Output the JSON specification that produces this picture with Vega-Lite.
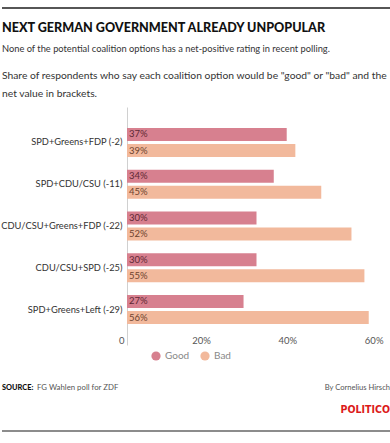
{
  "$schema": "https://vega.github.io/schema/vega-lite/v6.json",
  "background": "white",
  "padding": {"left": 0, "top": 7, "right": 0, "bottom": 0},
  "config": {
    "view": {"stroke": null},
    "font": "Lato"
  },
  "columns": 1,
  "spacing": 15,
  "resolve": {"legend": {"color": "independent"}, "scale": {"color": "independent"}},
  "concat": [
    {
      "width": 265,
      "height": 1,
      "data": {"values": [{"k": 1}]},
      "mark": {"type": "rule", "color": "#1e1e1e", "strokeWidth": 1.5},
      "encoding": {"x": {"value": -125}, "x2": {"value": "width"}, "y": {"value": 0}},
      "title": {
        "text": "NEXT GERMAN GOVERNMENT ALREADY UNPOPULAR",
        "subtitle": "None of the potential coalition options has a net-positive rating in recent polling.",
        "orient": "bottom",
        "anchor": "start",
        "frame": "group",
        "dx": -125,
        "font": "Lato",
        "fontSize": 12.6,
        "fontWeight": 900,
        "color": "#111111",
        "offset": 13,
        "subtitleFont": "Lato",
        "subtitleFontSize": 9.3,
        "subtitleColor": "#333333",
        "subtitlePadding": 10.5
      }
    },
    {
      "width": 259,
      "height": 238,
      "title": {
        "text": ["Share of respondents who say each coalition option would be \"good\" or \"bad\" and the", "net value in brackets."],
        "anchor": "start",
        "frame": "group",
        "dx": -125,
        "font": "Lato",
        "fontSize": 10.3,
        "fontWeight": "normal",
        "color": "#333333",
        "lineHeight": 18,
        "offset": 8
      },
      "data": {
        "values": [
          {"coalition": "SPD+Greens+FDP (-2)", "answer": "Good", "share": 0.37},
          {"coalition": "SPD+Greens+FDP (-2)", "answer": "Bad", "share": 0.39},
          {"coalition": "SPD+CDU/CSU (-11)", "answer": "Good", "share": 0.34},
          {"coalition": "SPD+CDU/CSU (-11)", "answer": "Bad", "share": 0.45},
          {"coalition": "CDU/CSU+Greens+FDP (-22)", "answer": "Good", "share": 0.30},
          {"coalition": "CDU/CSU+Greens+FDP (-22)", "answer": "Bad", "share": 0.52},
          {"coalition": "CDU/CSU+SPD (-25)", "answer": "Good", "share": 0.30},
          {"coalition": "CDU/CSU+SPD (-25)", "answer": "Bad", "share": 0.55},
          {"coalition": "SPD+Greens+Left (-29)", "answer": "Good", "share": 0.27},
          {"coalition": "SPD+Greens+Left (-29)", "answer": "Bad", "share": 0.56}
        ]
      },
      "encoding": {
        "y": {
          "field": "coalition",
          "type": "nominal",
          "sort": null,
          "scale": {"paddingInner": 0, "paddingOuter": 0.35},
          "axis": {
            "title": null,
            "ticks": false,
            "domain": true,
            "domainColor": "#d0d0d0",
            "domainWidth": 1,
            "labelFont": "Lato",
            "labelFontSize": 9.3,
            "labelColor": "#333333",
            "labelPadding": 5,
            "minExtent": 125,
            "maxExtent": 125
          }
        },
        "yOffset": {
          "field": "answer",
          "sort": ["Good", "Bad"],
          "scale": {"paddingInner": 0.2, "paddingOuter": 0.4}
        }
      },
      "layer": [
        {
          "mark": {"type": "bar"},
          "encoding": {
            "x": {
              "field": "share",
              "type": "quantitative",
              "scale": {"domain": [0, 0.6], "nice": false},
              "axis": {
                "title": null,
                "format": ".0%",
                "labelExpr": "datum.value === 0 ? '0' : datum.label",
                "values": [0, 0.2, 0.4, 0.6],
                "grid": false,
                "domain": false,
                "ticks": false,
                "tickSize": 0,
                "labelAlign": "right",
                "labelBaseline": "middle",
                "labelOffset": -3,
                "labelPadding": -5,
                "labelFont": "Lato",
                "labelFontSize": 9.5,
                "labelColor": "#555555"
              }
            },
            "color": {
              "field": "answer",
              "type": "nominal",
              "sort": ["Good", "Bad"],
              "scale": {"domain": ["Good", "Bad"], "range": ["#d7808f", "#f2b99c"]},
              "legend": {
                "title": null,
                "orient": "none",
                "legendX": 24,
                "legendY": 244,
                "direction": "horizontal",
                "symbolType": "circle",
                "symbolSize": 85,
                "symbolStrokeWidth": 0,
                "labelFont": "Lato",
                "labelFontSize": 10,
                "labelColor": "#888888",
                "columnPadding": 10
              }
            }
          }
        },
        {
          "mark": {"type": "text", "align": "left", "baseline": "middle", "dx": 2, "font": "Lato", "fontSize": 9.5},
          "encoding": {
            "x": {"datum": 0, "type": "quantitative"},
            "text": {"field": "share", "type": "quantitative", "format": ".0%"},
            "color": {
              "condition": {"test": "datum.answer === 'Good'", "value": "#5e2834"},
              "value": "#6e432f"
            }
          }
        }
      ]
    },
    {
      "width": 265,
      "height": 55,
      "layer": [
        {
          "data": {"values": [{"t": "SOURCE:"}]},
          "mark": {"type": "text", "align": "left", "baseline": "middle", "font": "Lato", "fontSize": 7.4, "fontWeight": 900, "color": "#111111"},
          "encoding": {"text": {"field": "t"}, "x": {"value": -125}, "y": {"value": 12}}
        },
        {
          "data": {"values": [{"t": "FG Wahlen poll for ZDF"}]},
          "mark": {"type": "text", "align": "left", "baseline": "middle", "font": "Lato", "fontSize": 7.8, "color": "#555555", "dx": 35},
          "encoding": {"text": {"field": "t"}, "x": {"value": -125}, "y": {"value": 12}}
        },
        {
          "data": {"values": [{"t": "By Cornelius Hirsch"}]},
          "mark": {"type": "text", "align": "right", "baseline": "middle", "font": "Lato", "fontSize": 7.6, "color": "#555555", "dx": -2},
          "encoding": {"text": {"field": "t"}, "x": {"value": "width"}, "y": {"value": 12}}
        },
        {
          "data": {"values": [{"t": "POLITICO"}]},
          "mark": {"type": "text", "align": "right", "baseline": "middle", "font": "DejaVu Sans Condensed", "fontSize": 10.5, "fontWeight": "bold", "color": "#dc1a1a", "dx": -2},
          "encoding": {"text": {"field": "t"}, "x": {"value": "width"}, "y": {"value": 34}}
        },
        {
          "data": {"values": [{"t": "rule"}]},
          "mark": {"type": "rule", "color": "#8c8c8c", "strokeWidth": 2},
          "encoding": {"x": {"value": -125}, "x2": {"value": "width"}, "y": {"value": 55}}
        }
      ]
    }
  ]
}
